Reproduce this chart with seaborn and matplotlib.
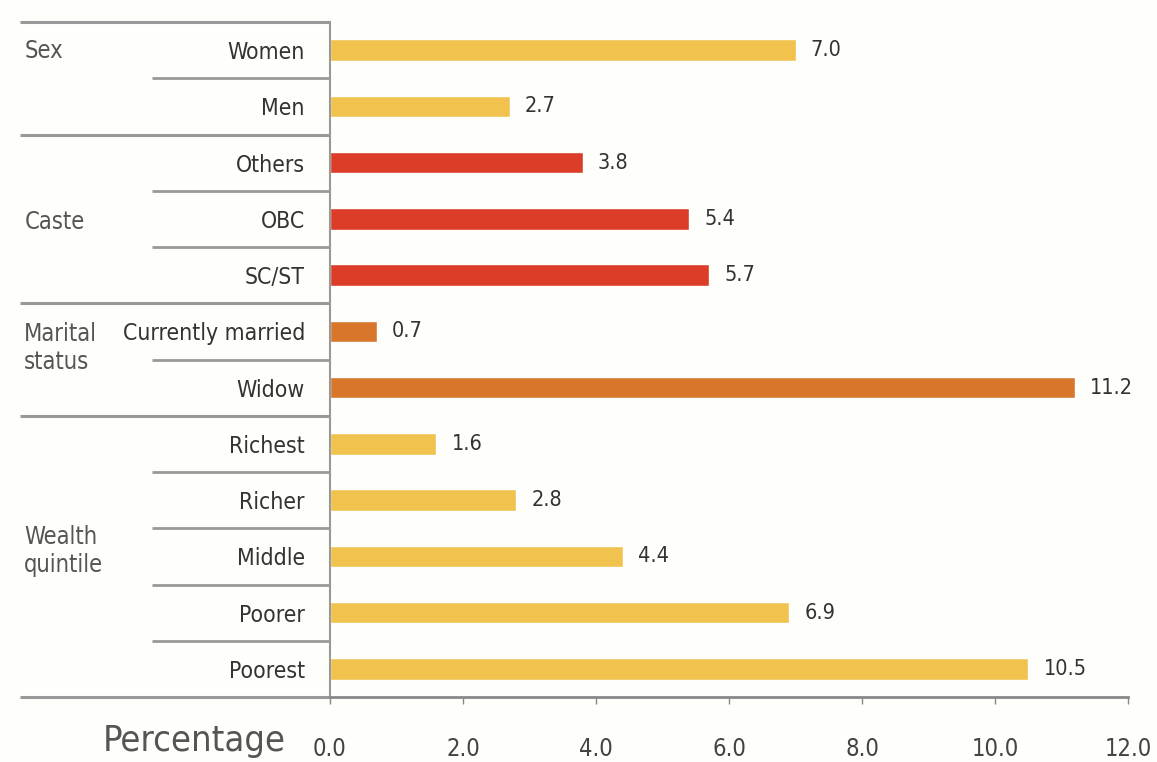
import matplotlib
matplotlib.use("Agg")
import matplotlib.pyplot as plt
import matplotlib.transforms as mtransforms
import seaborn as sns
import pandas as pd

# Share of people (%) by background characteristic
categories = ["Women", "Men", "Others", "OBC", "SC/ST", "Currently married", "Widow",
              "Richest", "Richer", "Middle", "Poorer", "Poorest"]
values = [7.0, 2.7, 3.8, 5.4, 5.7, 0.7, 11.2, 1.6, 2.8, 4.4, 6.9, 10.5]
groups = ["Sex", "Sex", "Caste", "Caste", "Caste", "Marital", "Marital",
          "Wealth", "Wealth", "Wealth", "Wealth", "Wealth"]
group_titles = {"Sex": "Sex", "Caste": "Caste", "Marital": "Marital\nstatus",
                "Wealth": "Wealth\nquintile"}
group_colors = {"Sex": "#F2C24F", "Caste": "#DC3D28", "Marital": "#D8772B",
                "Wealth": "#F2C24F"}
xticks = [0, 2, 4, 6, 8, 10, 12]

df = pd.DataFrame({"category": categories, "value": values, "group": groups})

sns.set_theme(style="white")
plt.rcParams["font.family"] = ["DejaVu Sans"]
plt.rcParams["font.stretch"] = "condensed"

fig = plt.figure(figsize=(11.57, 7.62), dpi=100)
fig.patch.set_facecolor("#FEFEFB")
ax = fig.add_axes([0.2852, 0.0853, 0.6898, 0.8858])
ax.set_facecolor("#FEFEFB")

sns.barplot(data=df, x="value", y="category", hue="group", palette=group_colors,
            order=categories, orient="h", width=0.38, dodge=False, legend=False,
            saturation=1, ax=ax)

for cont in ax.containers:
    ax.bar_label(cont, labels=[f"{v:.1f}" for v in cont.datavalues],
                 padding=11, fontsize=15.5, color="#333333")

ax.set_xlim(0, 12)
ax.set_ylim(11.5, -0.5)
ax.set_xticks(xticks)
ax.set_xticklabels([f"{t:.1f}" for t in xticks], fontsize=17, color="#444444")
ax.tick_params(axis="x", length=5, width=1, color="#888888", pad=24, direction="out",
               bottom=True)
ax.tick_params(axis="y", length=0, pad=18, labelsize=16.5, labelcolor="#333333")
ax.set_xlabel("")
ax.set_ylabel("")

for side in ["top", "right"]:
    ax.spines[side].set_visible(False)
ax.spines["left"].set_color("#999999")
ax.spines["left"].set_linewidth(1.5)
ax.spines["bottom"].set_color("#888888")
ax.spines["bottom"].set_linewidth(2)

trans = mtransforms.blended_transform_factory(ax.transAxes, ax.transData)
full_left = (20 - 330) / 798
inner_left = (152 - 330) / 798

# Group boundaries span the whole label column
for yb in [-0.5, 1.5, 4.5, 6.5, 11.5]:
    ax.plot([full_left, 0], [yb, yb], transform=trans, color="#999999",
            lw=2.2, clip_on=False, solid_capstyle="butt")
# Boundaries between items inside a group
for yb in [0.5, 2.5, 3.5, 5.5, 7.5, 8.5, 9.5, 10.5]:
    ax.plot([inner_left, 0], [yb, yb], transform=trans, color="#999999",
            lw=2, clip_on=False, solid_capstyle="butt")

# Group titles
group_y = {"Sex": 0.02, "Caste": 3.05, "Marital": 5.3, "Wealth": 8.9}
for g, yv in group_y.items():
    ax.text(-0.383, yv, group_titles[g], transform=trans, ha="left", va="center",
            fontsize=17, color="#555555", linespacing=1.2)

ax.text(-0.17, -0.065, "Percentage", transform=ax.transAxes, ha="center",
        va="center", fontsize=26, color="#555555")

fig.savefig("out.png", dpi=100, facecolor=fig.get_facecolor())
